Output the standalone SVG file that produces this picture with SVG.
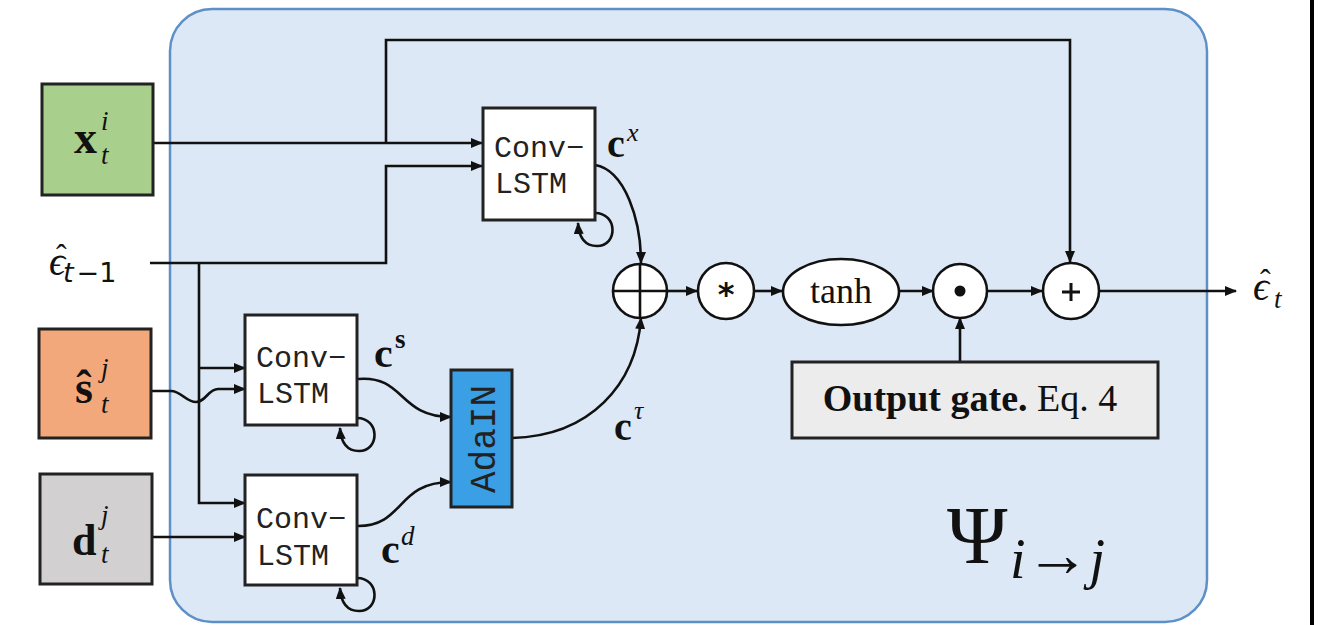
<svg xmlns="http://www.w3.org/2000/svg" width="1335" height="625" viewBox="0 0 1335 625">
<defs>
<marker id="arr" viewBox="0 0 12 10" refX="11" refY="5" markerWidth="12" markerHeight="10" markerUnits="userSpaceOnUse" orient="auto">
<path d="M0,0 L12,5 L0,10 z" fill="#111"/>
</marker>
<style>
.ln{fill:none;stroke:#111;stroke-width:2.6}
.bx{stroke:#222;stroke-width:3}
.mono{font-family:"Liberation Mono","DejaVu Sans Mono",monospace;fill:#222}
.m{font-family:"Liberation Serif","DejaVu Serif",serif;fill:#111}
.it{font-style:italic}
.b{font-weight:bold}
.op{fill:#fff;stroke:#111;stroke-width:2.6}
</style>
</defs>
<rect width="1335" height="625" fill="#fff"/>
<line x1="1312" y1="0" x2="1312" y2="625" stroke="#000" stroke-width="4"/>
<g id="container">
<rect x="170" y="9" width="1037" height="613" rx="42" ry="42" fill="#dce8f5" stroke="#5e90c8" stroke-width="2.5"/>
</g>
<g id="connectors">
<path class="ln" d="M154,143 L482,143" marker-end="url(#arr)"/>
<path class="ln" d="M386,143 L386,40 L1070,40 L1070,262" marker-end="url(#arr)"/>
<path class="ln" d="M150,263 L386,263 L386,166 L482,166" marker-end="url(#arr)"/>
<path class="ln" d="M199,263 L199,503 L245,503" marker-end="url(#arr)"/>
<path class="ln" d="M199,368 L245,368" marker-end="url(#arr)"/>
<path class="ln" d="M152,391 L171,391 C181,391 186,402 196,402 C206,402 208,389 218,389 L245,389" marker-end="url(#arr)"/>
<path class="ln" d="M153,537 L245,537" marker-end="url(#arr)"/>
<path class="ln" d="M595,213 C618,213 618,246 597,246 C585,246 579,238 578,223" marker-end="url(#arr)"/>
<path class="ln" d="M357,418 C380,418 380,451 359,451 C347,451 341,443 340,428" marker-end="url(#arr)"/>
<path class="ln" d="M357,578 C380,578 380,611 359,611 C347,611 341,603 340,588" marker-end="url(#arr)"/>
<path class="ln" d="M595,165 C625,170 641,220 641,263" marker-end="url(#arr)"/>
<path class="ln" d="M358,379 C405,375 398,417 451,417" marker-end="url(#arr)"/>
<path class="ln" d="M358,526 C405,526 396,482 451,482" marker-end="url(#arr)"/>
<path class="ln" d="M512,438 C590,436 636,385 641,318" marker-end="url(#arr)"/>
<path class="ln" d="M668,291 L697,291" marker-end="url(#arr)"/>
<path class="ln" d="M755,291 L782,291" marker-end="url(#arr)"/>
<path class="ln" d="M900,291 L933,291" marker-end="url(#arr)"/>
<path class="ln" d="M987,291 L1042,291" marker-end="url(#arr)"/>
<path class="ln" d="M1099,291 L1236,291" marker-end="url(#arr)"/>
<path class="ln" d="M960,362 L960,318" marker-end="url(#arr)"/>
</g>
<g id="x_input">
<rect class="bx" x="42" y="84" width="111" height="111" fill="#a8d08c"/>
<text class="m b" x="74" y="153" font-size="46">x</text>
<text class="m it" x="101" y="130" font-size="27">i</text>
<text class="m it" x="101" y="164" font-size="27">t</text>
</g>
<g id="s_input">
<rect class="bx" x="39" y="329" width="112" height="109" fill="#f2a87a"/>
<text class="m b" x="75" y="403" font-size="46">ŝ</text>
<text class="m it" x="101" y="377" font-size="27">j</text>
<text class="m it" x="101" y="413" font-size="27">t</text>
</g>
<g id="d_input">
<rect class="bx" x="40" y="474" width="112" height="110" fill="#d2d0d0"/>
<text class="m b" x="72" y="555" font-size="44">d</text>
<text class="m it" x="101" y="524" font-size="27">j</text>
<text class="m it" x="101" y="563" font-size="27">t</text>
</g>
<g id="eps_in">
<text class="m" x="49" y="275" font-size="40"><tspan font-style="italic">ϵ</tspan><tspan x="56" y="266" font-size="32">ˆ</tspan><tspan x="63" y="282" font-size="27" font-style="italic" font-family="DejaVu Sans,sans-serif">t</tspan><tspan font-size="27" font-family="DejaVu Sans,sans-serif" dx="3">−1</tspan></text>
</g>
<g id="convlstm_x">
<rect class="bx" x="483" y="108" width="112" height="112" fill="#fff"/>
<text class="mono" x="539" y="157" font-size="30" text-anchor="middle">Conv−</text>
<text class="mono" x="531" y="193" font-size="30" text-anchor="middle">LSTM</text>
</g>
<g id="convlstm_s">
<rect class="bx" x="245" y="315" width="112" height="110" fill="#fff"/>
<text class="mono" x="301" y="367" font-size="30" text-anchor="middle">Conv−</text>
<text class="mono" x="293" y="403" font-size="30" text-anchor="middle">LSTM</text>
</g>
<g id="convlstm_d">
<rect class="bx" x="245" y="475" width="112" height="110" fill="#fff"/>
<text class="mono" x="301" y="528" font-size="30" text-anchor="middle">Conv−</text>
<text class="mono" x="293" y="565" font-size="30" text-anchor="middle">LSTM</text>
</g>
<g id="adain">
<rect class="bx" x="451" y="370" width="61" height="137" fill="#3a9fe4"/>
<text class="mono" transform="translate(495,439) rotate(-90)" x="0" y="0" font-size="36" text-anchor="middle" fill="#12233d">AdaIN</text>
</g>
<g id="labels">
<text class="m b" x="607" y="157" font-size="40">c</text>
<text class="m it" x="627" y="141" font-size="26">x</text>
<text class="m b" x="374" y="367" font-size="42">c</text>
<text class="m b" x="395" y="348" font-size="27">s</text>
<text class="m b" x="381" y="563" font-size="42">c</text>
<text class="m it" x="401" y="545" font-size="27">d</text>
<text class="m b" x="614" y="440" font-size="40">c</text>
<text class="m it" x="634" y="419" font-size="26">τ</text>
</g>
<g id="oplus">
<circle class="op" cx="640" cy="291" r="27"/>
<path class="ln" d="M613,291 L667,291 M640,264 L640,318"/>
</g>
<g id="conv_op">
<circle class="op" cx="726" cy="291" r="28"/>
<text x="726" y="305" font-size="32" font-weight="bold" text-anchor="middle" font-family="DejaVu Sans,sans-serif" fill="#111">*</text>
</g>
<g id="tanh">
<ellipse class="op" cx="841" cy="292" rx="58" ry="33"/>
<text class="m" x="841" y="303" font-size="36" text-anchor="middle">tanh</text>
</g>
<g id="odot">
<circle class="op" cx="960" cy="291" r="27"/>
<circle cx="960" cy="291" r="5.5" fill="#111"/>
</g>
<g id="plus">
<circle class="op" cx="1071" cy="291" r="28"/>
<path d="M1062,292 L1080,292 M1071,283 L1071,301" stroke="#111" stroke-width="3" fill="none"/>
</g>
<g id="output_gate">
<rect class="bx" x="792" y="362" width="366" height="76" fill="#ececec"/>
<text class="m" x="970" y="411" font-size="38" text-anchor="middle"><tspan font-weight="bold">Output gate.</tspan> Eq. 4</text>
</g>
<g id="eps_out">
<text class="m" x="1253" y="300" font-size="40"><tspan font-style="italic">ϵ</tspan><tspan x="1260" y="291" font-size="32">ˆ</tspan><tspan x="1274" y="308" font-size="27" font-style="italic">t</tspan></text>
</g>
<g id="psi">
<text class="m" x="947" y="563" font-size="82">Ψ</text>
<text class="m" x="1010" y="578" font-size="56"><tspan font-style="italic">i</tspan><tspan font-size="64" dy="-2">→</tspan><tspan font-style="italic" dy="2">j</tspan></text>
</g>
</svg>
